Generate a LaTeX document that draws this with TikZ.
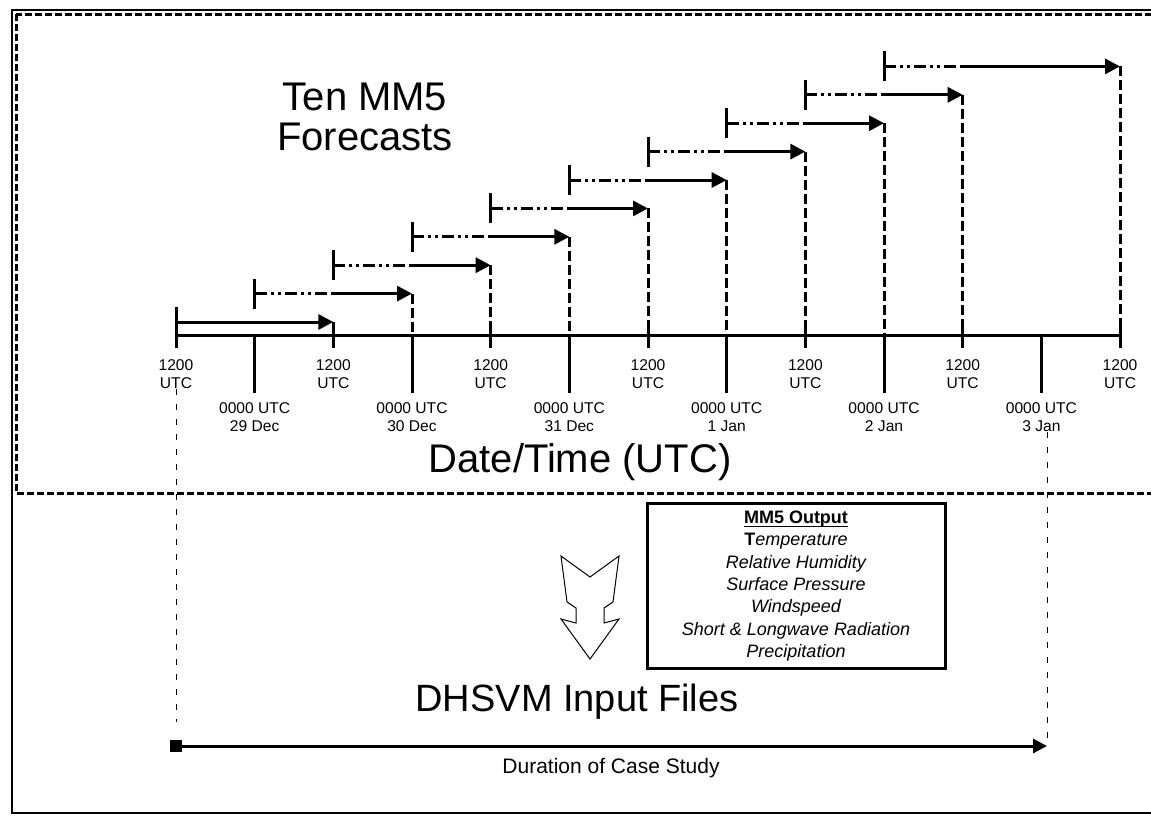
\documentclass[tikz,border=0pt]{standalone}
\usepackage{fontspec}
\setmainfont{Liberation Sans}
\usepackage{tikz}
\usetikzlibrary{arrows.meta}
\tikzstyle{axisline}=[draw,line width=1.5pt]
\tikzstyle{tickline}=[draw,line width=1.5pt]
\tikzstyle{spinup}=[draw,line width=1.5pt,dash pattern=on 6pt off 2pt on 1.5pt off 2pt on 1.5pt off 2pt]
\tikzstyle{forecast}=[draw,line width=1.5pt,-{Triangle[length=7.5pt,width=7.5pt]}]
\tikzstyle{drop}=[draw,line width=1.5pt,dash pattern=on 5pt off 2pt]
\tikzstyle{guide}=[draw,line width=0.5pt,dash pattern=on 3pt off 4.5pt]
\tikzstyle{noonlabel}=[font=\fontsize{7.8}{9.2}\selectfont,align=center,inner sep=0pt]
\tikzstyle{midlabel}=[font=\fontsize{7.8}{9.2}\selectfont,align=center,inner sep=0pt]
\tikzstyle{bigtext}=[font=\fontsize{20}{20}\selectfont,align=center]
\tikzset{outbox/.style={draw,line width=1.5pt,align=center,font=\fontsize{9}{11.2}\selectfont\itshape,minimum width=149pt,minimum height=80pt}}

\begin{document}
\begin{tikzpicture}[x=0.5pt,y=-0.5pt]

  \def\dx{176};
  \def\dt{78.67};
  \def\ax{335};

  \useasboundingbox (0,0) rectangle (1151,815);
  \clip (0,0) rectangle (1151,815);

%frames
  \draw[line width=0.6pt] (12,10) rectangle (1170,813);
  \draw[line width=1.5pt,dash pattern=on 3.5pt off 1.5pt] (16,14) rectangle (1170,493);

%time axis
   \foreach \i in {0,...,12}
          \coordinate (t\i) at (\i*\dt+\dx, \ax);

   \path[axisline] (t0) -- (t12);

   \foreach \i in {0,2,...,12}
          \path[tickline] (t\i) ++(0,-13) -- ++(0,26);
   \foreach \i in {1,3,...,11}
          \path[tickline] (t\i) -- ++(0,58);

   \foreach \i in {0,2,...,12}
          \node[noonlabel] (n\i) at (\i*\dt+\dx, 374) {1200\\UTC};

   \foreach \i/\day in {1/29 Dec, 3/30 Dec, 5/31 Dec, 7/1 Jan, 9/2 Jan, 11/3 Jan}
          \node[midlabel] (m\i) at (\i*\dt+\dx, 417) {0000 UTC\\\day};

%forecasts
   \foreach \k/\e in {0/2, 1/3, 2/4, 3/5, 4/6, 5/7, 6/8, 7/9, 8/10, 9/12} {
          \coordinate (fs\k) at (\k*\dt+\dx, 322-28.4*\k);
          \coordinate (fm\k) at (\k*\dt+\dt+\dx, 322-28.4*\k);
          \coordinate (fe\k) at (\e*\dt+\dx, 322-28.4*\k);
          \path[tickline] (fs\k) ++(0,-15) -- ++(0,30);
          \path[drop] (fe\k) -- (fe\k |- t0);
   }

   \path[forecast] (fs0) -- (fe0);
   \foreach \k in {1,...,9} {
          \path[spinup] (fs\k) -- (fm\k);
          \path[forecast] (fm\k) -- (fe\k);
   }

  \node[bigtext] (title) at (365,117) {Ten MM5\\Forecasts};
  \node[bigtext] (axtitle) at (580,462) {Date/Time (UTC)};

%output
  \node[outbox] (mm5out) at (796,586) {\textup{\textbf{\underline{\raisebox{0pt}[\height][0pt]{MM5 Output}}}}\\\textup{\textbf{T}}emperature\\Relative Humidity\\Surface Pressure\\Windspeed\\Short \& Longwave Radiation\\Precipitation};

  \draw[line width=0.5pt,shift={(590,608)}] (-29,-52) -- (0,-31) -- (29,-52) -- (23,-6) -- (14,0) -- (14,15) -- (29,11) -- (0,51) -- (-29,11) -- (-14,15) -- (-14,0) -- (-23,-6) -- cycle;

  \node[bigtext,font=\fontsize{19}{19}\selectfont] (dhsvm) at (577,702) {DHSVM Input Files};

%duration
  \coordinate (dstart) at (170,746);
  \coordinate (dend) at (1047,746);
  \coordinate (gl) at (176,722);
  \path[axisline,{Square[length=6pt,width=6pt]}-{Triangle[length=7pt,width=7pt]}] (dstart) -- (dend);
  \node[font=\fontsize{10.5}{12}\selectfont] (dur) at (611,768) {Duration of Case Study};

  \path[guide] (n0.south) -- (gl);
  \path[guide] (dend |- m11.south) -- (dend);

\end{tikzpicture}
\end{document}
